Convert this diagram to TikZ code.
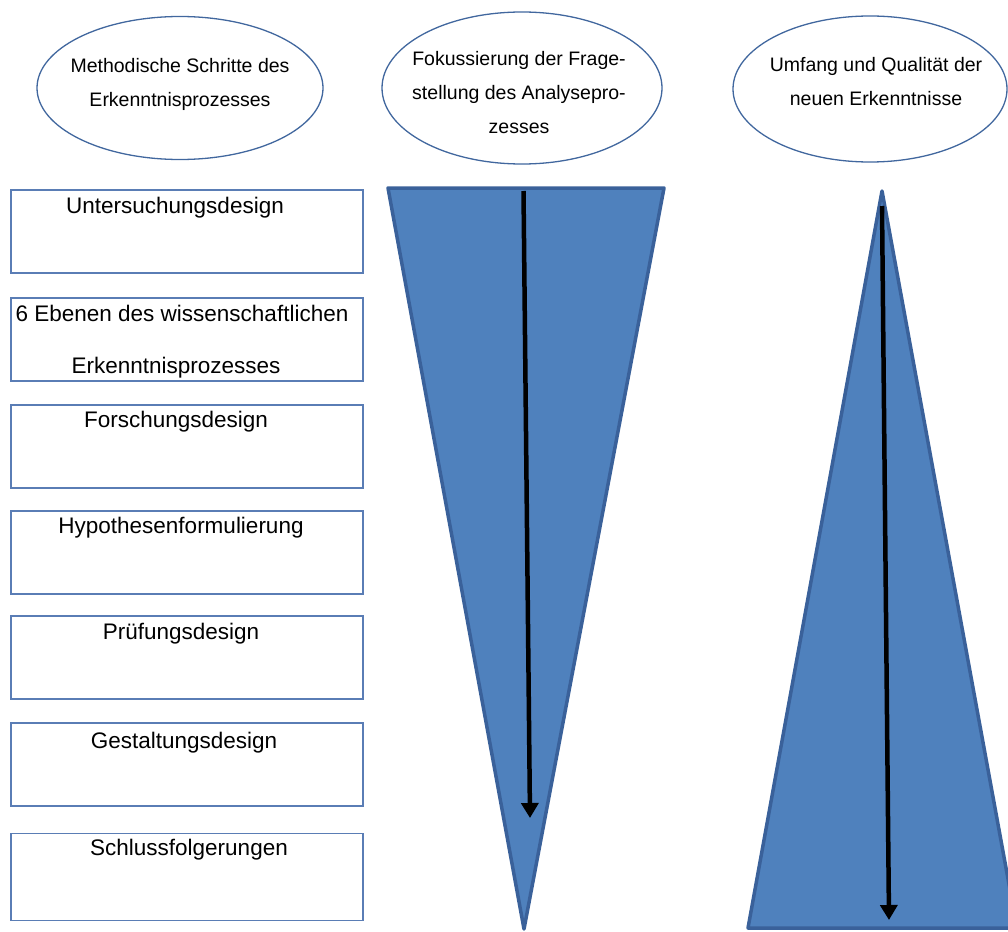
\documentclass[tikz,border=0pt]{standalone}
\usepackage{fontspec}
\setmainfont{Liberation Sans}
\usetikzlibrary{shapes.geometric,arrows.meta}
\definecolor{triFill}{HTML}{4F81BD}
\definecolor{triEdge}{HTML}{3A619A}
\definecolor{ellEdge}{HTML}{41679E}
\definecolor{boxEdge}{HTML}{5A7DB5}
\tikzset{
  ell/.style={draw=ellEdge, line width=1.3pt, ellipse, inner sep=0pt},
  etext/.style={align=center, font=\fontsize{19.5}{34}\selectfont},
  stepbox/.style={draw=boxEdge, line width=1.2pt, rectangle, minimum width=352pt, minimum height=83pt, inner sep=0pt},
  btext/.style={font=\fontsize{22.5}{27}\selectfont, inner sep=0pt},
  tri/.style={fill=triFill, draw=triEdge, line width=3.5pt, line join=round},
  flow/.style={draw=black, line width=4.5pt, -{Triangle[length=15pt,width=17pt]}}
}
\begin{document}
\begin{tikzpicture}[x=1pt,y=-1pt]
\useasboundingbox (0,0) rectangle (1008,931);
\clip (0,0) rectangle (1008,931);

% header ellipses
\node[ell, minimum width=286pt, minimum height=143pt] (e1) at (180,88) {};
\node[etext] (t1) at (180,84) {Methodische Schritte des\\Erkenntnisprozesses};
\node[ell, minimum width=280pt, minimum height=152pt] (e2) at (522,88) {};
\node[etext] (t2) at (519,93) {Fokussierung der Frage-\\stellung des Analysepro-\\zesses};
\node[ell, minimum width=274pt, minimum height=146pt] (e3) at (870,89) {};
\node[etext] (t3) at (876,82) {Umfang und Qualität der\\neuen Erkenntnisse};

% method steps
\node[stepbox] (b1) at (187,231.5) {};
\node[btext] (l1) at (175,208) {Untersuchungsdesign};
\node[stepbox] (b2) at (187,339.5) {};
\node[btext] (l2a) at (182,313) {6 Ebenen des wissenschaftlichen};
\node[btext] (l2b) at (176,368) {Erkenntnisprozesses};
\node[stepbox] (b3) at (187,446.5) {};
\node[btext] (l3) at (176,422) {Forschungsdesign};
\node[stepbox] (b4) at (187,552.5) {};
\node[btext] (l4) at (181,528) {Hypothesenformulierung};
\node[stepbox] (b5) at (187,657.5) {};
\node[btext] (l5) at (181,634) {Prüfungsdesign};
\node[stepbox] (b6) at (187,764.5) {};
\node[btext] (l6) at (184,743) {Gestaltungsdesign};
\node[stepbox, minimum height=87pt] (b7) at (187,877) {};
\node[btext] (l7) at (189,850) {Schlussfolgerungen};

% narrowing focus
\coordinate (f1) at (388,188);
\coordinate (f2) at (664,188);
\coordinate (f3) at (524,929);
\path[tri] (f1) -- (f2) -- (f3) -- cycle;
\coordinate (fa) at (523.5,191);
\coordinate (fb) at (530,818);
\draw[flow] (fa) -- (fb);

% widening knowledge
\coordinate (g1) at (882,191);
\coordinate (g2) at (1017,928);
\coordinate (g3) at (748,928);
\path[tri] (g1) -- (g2) -- (g3) -- cycle;
\coordinate (ga) at (882,206);
\coordinate (gb) at (889,920);
\draw[flow] (ga) -- (gb);
\end{tikzpicture}
\end{document}
